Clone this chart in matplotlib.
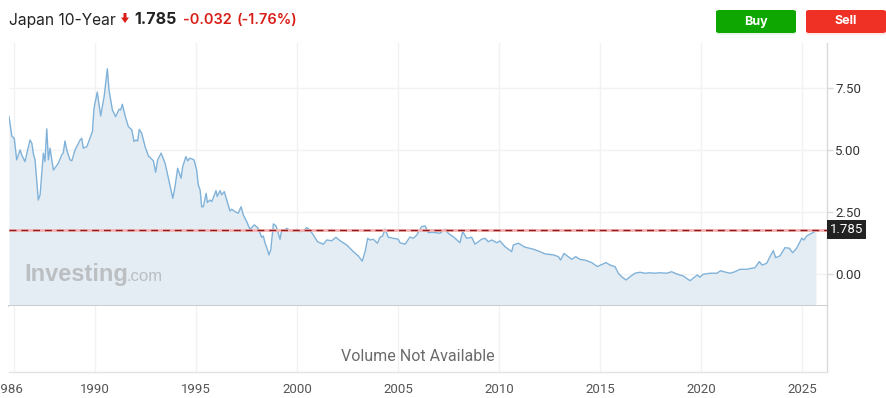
import matplotlib
matplotlib.use("Agg")
import matplotlib.pyplot as plt
from matplotlib.patches import FancyBboxPatch, Polygon
from matplotlib.transforms import blended_transform_factory, ScaledTranslation

# ---------------- data ----------------
title = "Japan 10-Year"
last_price = 1.785
change_abs = "-0.032"
change_pct = "(-1.76%)"

years = [
    1985.74, 1985.88, 1986.00, 1986.12, 1986.29, 1986.37, 1986.53, 1986.78, 1986.87, 1986.95,
    1987.03, 1987.19, 1987.28, 1987.44, 1987.52, 1987.61, 1987.69, 1987.77, 1987.94, 1988.18,
    1988.35, 1988.43, 1988.51, 1988.60, 1988.76, 1988.85, 1989.01, 1989.26, 1989.34, 1989.42,
    1989.59, 1989.75, 1989.87, 1989.95, 1990.11, 1990.28, 1990.45, 1990.61, 1990.69, 1990.86,
    1991.02, 1991.19, 1991.27, 1991.35, 1991.49, 1991.65, 1991.82, 1991.93, 1992.03, 1992.11,
    1992.19, 1992.31, 1992.48, 1992.64, 1992.89, 1993.00, 1993.10, 1993.27, 1993.47, 1993.63,
    1993.85, 1993.96, 1994.09, 1994.26, 1994.34, 1994.50, 1994.59, 1994.70, 1994.90, 1995.03,
    1995.11, 1995.20, 1995.28, 1995.36, 1995.50, 1995.56, 1995.69, 1995.78, 1995.99, 1996.05,
    1996.19, 1996.27, 1996.40, 1996.52, 1996.68, 1996.77, 1996.93, 1997.09, 1997.23, 1997.34,
    1997.51, 1997.67, 1997.89, 1998.08, 1998.25, 1998.33, 1998.42, 1998.53, 1998.61, 1998.70,
    1998.83, 1998.96, 1999.07, 1999.16, 1999.24, 1999.37, 1999.49, 1999.65, 1999.82, 1999.99,
    2000.15, 2000.31, 2000.48, 2000.64, 2000.81, 2001.02, 2001.30, 2001.47, 2001.72, 2001.93,
    2002.13, 2002.46, 2002.79, 2003.03, 2003.23, 2003.37, 2003.50, 2003.61, 2003.78, 2003.98,
    2004.11, 2004.24, 2004.36, 2004.52, 2004.77, 2005.01, 2005.10, 2005.35, 2005.59, 2005.76,
    2005.93, 2006.17, 2006.34, 2006.50, 2006.75, 2007.08, 2007.33, 2007.49, 2007.74, 2008.07,
    2008.20, 2008.40, 2008.65, 2008.81, 2009.14, 2009.31, 2009.47, 2009.64, 2009.89, 2010.05,
    2010.30, 2010.63, 2010.71, 2010.96, 2011.29, 2011.70, 2012.03, 2012.28, 2012.69, 2012.94,
    2013.05, 2013.22, 2013.43, 2013.60, 2013.80, 2014.01, 2014.26, 2014.59, 2014.87, 2015.08,
    2015.30, 2015.50, 2015.74, 2015.91, 2016.07, 2016.29, 2016.49, 2016.73, 2016.98, 2017.23,
    2017.48, 2017.72, 2017.97, 2018.30, 2018.55, 2018.80, 2019.12, 2019.46, 2019.62, 2019.82,
    2019.95, 2020.11, 2020.45, 2020.78, 2020.98, 2021.19, 2021.44, 2021.68, 2021.93, 2022.26,
    2022.51, 2022.67, 2022.89, 2023.03, 2023.25, 2023.42, 2023.58, 2023.70, 2023.91, 2024.04,
    2024.16, 2024.37, 2024.54, 2024.74, 2024.99, 2025.10, 2025.23, 2025.40, 2025.56, 2025.69,
]
yields = [
    6.34, 5.56, 5.47, 4.60, 5.00, 4.80, 4.53, 5.40, 5.27, 4.84,
    4.60, 2.98, 3.19, 4.87, 4.53, 5.85, 4.60, 5.07, 4.19, 4.46,
    4.80, 4.89, 5.36, 5.00, 4.60, 4.56, 5.00, 5.40, 5.47, 5.07,
    5.13, 5.47, 5.74, 6.68, 7.33, 6.37, 7.15, 8.27, 7.42, 6.61,
    6.34, 6.64, 6.61, 6.84, 6.37, 5.94, 5.81, 5.34, 5.40, 5.36,
    5.83, 5.67, 5.13, 4.76, 4.56, 4.10, 4.60, 4.87, 4.46, 3.86,
    3.05, 3.52, 4.26, 3.86, 4.33, 4.73, 4.56, 4.67, 4.60, 4.19,
    3.59, 3.39, 2.71, 2.71, 3.25, 2.88, 2.98, 2.92, 3.36, 3.12,
    3.36, 3.19, 3.32, 2.98, 2.54, 2.61, 2.51, 2.45, 2.71, 2.38,
    2.11, 1.80, 1.98, 1.84, 1.48, 1.53, 1.24, 1.00, 0.77, 0.97,
    2.02, 1.94, 1.64, 1.40, 1.77, 1.77, 1.84, 1.77, 1.71, 1.80,
    1.71, 1.73, 1.87, 1.77, 1.57, 1.30, 1.20, 1.37, 1.34, 1.48,
    1.34, 1.17, 0.90, 0.73, 0.52, 0.90, 1.44, 1.37, 1.40, 1.24,
    1.48, 1.53, 1.81, 1.48, 1.44, 1.40, 1.26, 1.20, 1.49, 1.44,
    1.57, 1.91, 1.94, 1.67, 1.68, 1.64, 1.81, 1.64, 1.50, 1.26,
    1.71, 1.44, 1.48, 1.20, 1.40, 1.44, 1.30, 1.37, 1.26, 1.33,
    1.10, 0.90, 1.17, 1.24, 1.08, 1.00, 0.90, 0.81, 0.77, 0.70,
    0.56, 0.83, 0.70, 0.59, 0.70, 0.59, 0.56, 0.46, 0.30, 0.38,
    0.46, 0.36, 0.30, 0.03, -0.11, -0.24, -0.11, 0.03, 0.07, 0.03,
    0.05, 0.03, 0.05, 0.03, 0.09, 0.00, -0.08, -0.27, -0.17, -0.04,
    -0.13, -0.01, 0.03, 0.03, 0.13, 0.08, 0.03, 0.09, 0.19, 0.19,
    0.23, 0.25, 0.50, 0.36, 0.43, 0.70, 0.94, 0.66, 0.73, 0.90,
    1.06, 1.04, 0.86, 1.04, 1.44, 1.37, 1.53, 1.61, 1.67, 1.785,
]

x_ticks = [1986, 1990, 1995, 2000, 2005, 2010, 2015, 2020, 2025]
x_ticklabels = ["1986", "1990", "1995", "2000", "2005", "2010", "2015", "2020", "2025"]
y_ticks = [0.0, 2.5, 5.0, 7.5]
y_ticklabels = ["0.00", "2.50", "5.00", "7.50"]

# ---------------- figure ----------------
W, H = 887, 398
fig = plt.figure(figsize=(W / 100, H / 100), dpi=100)
fig.patch.set_facecolor("white")

def fx(px):
    return px / W

def fy(py):
    return 1 - py / H

FONT = ["Roboto", "DejaVu Sans"]
HFONT = ["Inter", "Roboto", "DejaVu Sans"]

left_px, right_px = 9, 827
top_px, mid_px, bot_px = 43, 306, 372

ax = fig.add_axes([fx(left_px), fy(mid_px), fx(right_px - left_px), (mid_px - top_px) / H])
axv = fig.add_axes([fx(left_px), fy(bot_px), fx(right_px - left_px), (bot_px - mid_px) / H], sharex=ax)

xmin, xmax = 1985.74, 2026.24
ymin, ymax = -1.29, 9.31
ax.set_xlim(xmin, xmax)
ax.set_ylim(ymin, ymax)

grid_c = "#f0f2f4"
for a in (ax, axv):
    a.set_facecolor("white")
    for s in ("left", "top"):
        a.spines[s].set_visible(False)
    a.spines["right"].set_color("#d8dadd")
    a.spines["right"].set_linewidth(1)
    a.set_xticks(x_ticks)
    a.grid(axis="x", color=grid_c, linewidth=1)
    a.set_axisbelow(True)

ax.spines["bottom"].set_color("#c3c7cc")
ax.spines["bottom"].set_linewidth(1.2)
axv.spines["bottom"].set_color("#e1e3e6")
axv.spines["bottom"].set_linewidth(1)

# price panel
ax.fill_between(years, yields, ax.get_ylim()[0], color="#e4edf4", linewidth=0, zorder=1)
ax.plot(years, yields, color="#80b2d9", linewidth=1.0, zorder=3)
ax.grid(axis="y", color=grid_c, linewidth=1)

ax.axhline(last_price, color="#f6b3b3", linewidth=2.0, zorder=4)
ax.axhline(last_price, color="#8e1b1b", linewidth=1.0, linestyle=(0, (5, 3.5)), zorder=5)

ax.yaxis.tick_right()
ax.set_yticks(y_ticks)
ax.set_yticklabels(y_ticklabels)
ax.tick_params(axis="y", length=4, width=1, color="#d8dadd", pad=2,
               labelsize=9.5, labelcolor="#333333")
for lbl in ax.get_yticklabels():
    lbl.set_fontfamily(FONT)
ax.tick_params(axis="x", bottom=False, labelbottom=False)

# last price tag
trans = blended_transform_factory(ax.transAxes, ax.transData)
ax.text(1.0035, last_price, f"{last_price:.3f}", transform=trans, ha="left", va="center",
        fontsize=9.5, color="white", family=FONT, zorder=10, clip_on=False,
        bbox=dict(boxstyle="square,pad=0.22", facecolor="#222222", edgecolor="none"))

# watermark
ax.text(0.019, 0.095, "Investing", transform=ax.transAxes, fontsize=17, fontweight="bold",
        color="#bcbfc2", family=["Liberation Sans", "DejaVu Sans"], ha="left", va="baseline", zorder=2)
ax.text(0.144, 0.095, ".com", transform=ax.transAxes, fontsize=12, color="#bcbfc2",
        family=["Liberation Sans", "DejaVu Sans"], ha="left", va="baseline", zorder=2)

# volume panel
axv.set_ylim(0, 1)
axv.set_yticks([])
axv.tick_params(axis="y", right=False, left=False)
axv.set_xticks(x_ticks)
axv.set_xticklabels(x_ticklabels)
axv.tick_params(axis="x", length=0, pad=8, labelsize=9.5, labelcolor="#555555")
for lbl in axv.get_xticklabels():
    lbl.set_fontfamily(FONT)
# first label is cut by the left canvas edge, as in the source chart
first = axv.get_xticklabels()[0]
first.set_transform(first.get_transform() + ScaledTranslation(-5 / 100, 0, fig.dpi_scale_trans))
axv.text(0.5, 0.24, "Volume Not Available", transform=axv.transAxes, ha="center", va="center",
         fontsize=11.5, color="#6b6b6b", family=FONT)

# ---------------- header ----------------
fig.text(fx(9), fy(24.5), title, fontsize=11.2, color="#222222", family=HFONT, va="baseline")
arrow = Polygon([[fx(123.5), fy(13)], [fx(126.5), fy(13)], [fx(126.5), fy(17.5)], [fx(129), fy(17.5)],
                 [fx(125), fy(23)], [fx(121), fy(17.5)], [fx(123.5), fy(17.5)]],
                closed=True, transform=fig.transFigure, facecolor="#d91e18", edgecolor="none")
fig.patches.append(arrow)
fig.text(fx(134.5), fy(24.5), f"{last_price:.3f}", fontsize=11.5, fontweight="bold", color="#222222",
         family=HFONT, va="baseline")
fig.text(fx(183), fy(24.5), change_abs, fontsize=10.5, fontweight="semibold", color="#d91e18",
         family=HFONT, va="baseline")
fig.text(fx(236.5), fy(24.5), change_pct, fontsize=10.5, fontweight="semibold", color="#d91e18",
         family=HFONT, va="baseline")

def button(x0, x1, color, label, shadow):
    y0, y1 = 10, 33
    sh = FancyBboxPatch((fx(x0), fy(y1 + 2)), fx(x1 - x0), (y1 - y0) / H,
                        boxstyle="round,pad=0,rounding_size=0.004", transform=fig.transFigure,
                        facecolor=shadow, edgecolor="none", alpha=0.35)
    fig.patches.append(sh)
    p = FancyBboxPatch((fx(x0), fy(y1)), fx(x1 - x0), (y1 - y0) / H,
                       boxstyle="round,pad=0,rounding_size=0.004", transform=fig.transFigure,
                       facecolor=color, edgecolor="none")
    fig.patches.append(p)
    fig.text(fx((x0 + x1) / 2), fy((y0 + y1) / 2), label, ha="center", va="center",
             fontsize=9, fontweight="bold", color="white", family=HFONT)

button(716, 796, "#0ea600", "Buy", "#bfe8bb")
button(806, 886, "#ee3124", "Sell", "#f7c0bb")

fig.savefig("out.png", dpi=100, facecolor="white")
